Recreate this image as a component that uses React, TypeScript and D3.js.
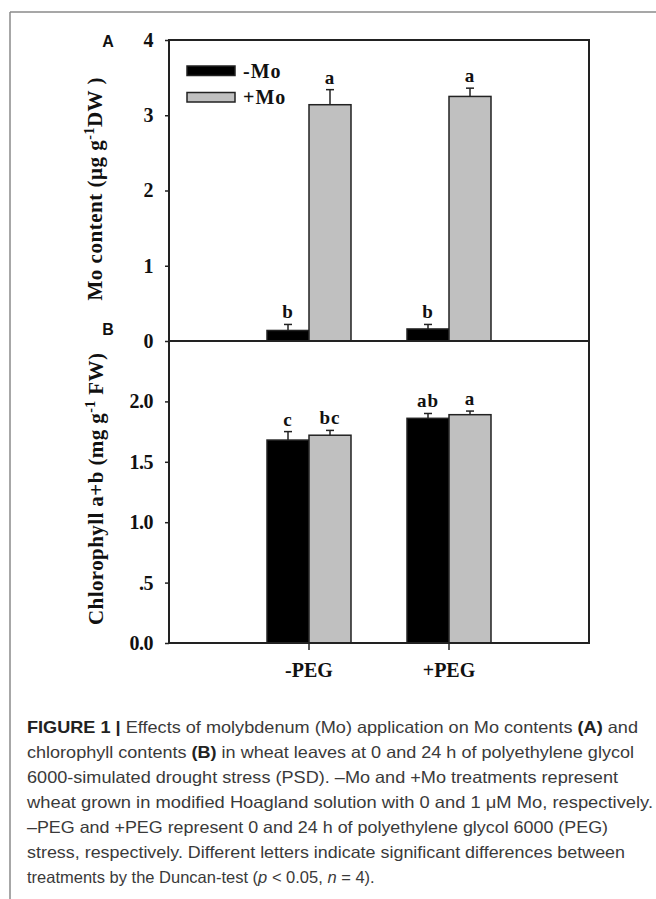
import { useRef, useEffect } from "react";
import * as d3 from "d3";

// groups on the x axis and the two Mo treatments
const groups = ["-PEG", "+PEG"];
const treatments = ["-Mo", "+Mo"];

// panel A: Mo content (µg g-1 DW)
const moMinusMo = [0.14, 0.16];
const moMinusMoErr = [0.08, 0.06];
const moPlusMo = [3.14, 3.25];
const moPlusMoErr = [0.2, 0.11];
const moLettersMinus = ["b", "b"];
const moLettersPlus = ["a", "a"];
const moTicks = [0, 1, 2, 3, 4];

// panel B: chlorophyll a+b (mg g-1 FW)
const chlMinusMo = [1.68, 1.86];
const chlMinusMoErr = [0.07, 0.04];
const chlPlusMo = [1.72, 1.89];
const chlPlusMoErr = [0.04, 0.03];
const chlLettersMinus = ["c", "ab"];
const chlLettersPlus = ["bc", "a"];
const chlTicks = [0, 0.5, 1, 1.5, 2];

const SERIF = "'Liberation Serif', 'Times New Roman', serif";
const SANS = "'Liberation Sans', Arial, Helvetica, sans-serif";
const FILLS = ["#000000", "#c0c0c0"];

export default function App() {
  const gRef = useRef<SVGGElement>(null);

  useEffect(() => {
    if (!gRef.current) return;
    const root = d3.select(gRef.current);
    root.selectAll("*").remove();

    const left = 169;
    const right = 589;

    const x = d3.scalePoint<string>().domain(groups).range([left, right]).padding(1);
    const sub = d3.scaleBand<string>().domain(treatments).range([-42, 42]);

    const drawPanel = (
      top: number,
      bottom: number,
      yMax: number,
      ticks: number[],
      fmt: (d: number) => string,
      values: number[][],
      errs: number[][],
      letters: string[][],
      showX: boolean
    ) => {
      const y = d3.scaleLinear().domain([0, yMax]).range([bottom, top]);
      const g = root.append("g");

      // bars with upper error bars and letters
      treatments.forEach((t, ti) => {
        groups.forEach((grp, gi) => {
          const v = values[ti][gi];
          const e = errs[ti][gi];
          const bx = (x(grp) || 0) + (sub(t) || 0);
          const cx = bx + sub.bandwidth() / 2;
          g.append("rect")
            .attr("x", bx)
            .attr("y", y(v))
            .attr("width", sub.bandwidth())
            .attr("height", bottom - y(v))
            .attr("fill", FILLS[ti])
            .attr("stroke", "#222")
            .attr("stroke-width", 1.5);
          g.append("line")
            .attr("x1", cx)
            .attr("x2", cx)
            .attr("y1", y(v))
            .attr("y2", y(v + e))
            .attr("stroke", "#222")
            .attr("stroke-width", 1.5);
          g.append("line")
            .attr("x1", cx - 4)
            .attr("x2", cx + 4)
            .attr("y1", y(v + e))
            .attr("y2", y(v + e))
            .attr("stroke", "#222")
            .attr("stroke-width", 1.5);
          g.append("text")
            .attr("x", cx)
            .attr("y", y(v + e) - 6)
            .attr("text-anchor", "middle")
            .attr("font-family", SERIF)
            .attr("font-weight", "bold")
            .attr("font-size", 19)
            .attr("letter-spacing", 1)
            .attr("fill", "#111")
            .text(letters[ti][gi]);
        });
      });

      // frame
      g.append("rect")
        .attr("x", left)
        .attr("y", top)
        .attr("width", right - left)
        .attr("height", bottom - top)
        .attr("fill", "none")
        .attr("stroke", "#222")
        .attr("stroke-width", 2);

      // y axis
      const ax = g
        .append("g")
        .attr("transform", `translate(${left},0)`)
        .call(
          d3
            .axisLeft(y)
            .tickValues(ticks)
            .tickSize(4)
            .tickPadding(12)
            .tickFormat((d) => fmt(d as number))
        );
      ax.select(".domain").remove();
      ax.selectAll("line").attr("stroke", "#222").attr("stroke-width", 1.5);
      ax.selectAll("text")
        .attr("font-family", SERIF)
        .attr("font-weight", "bold")
        .attr("font-size", 20)
        .attr("letter-spacing", -0.5)
        .attr("fill", "#111");

      if (showX) {
        groups.forEach((grp) => {
          g.append("line")
            .attr("x1", x(grp) || 0)
            .attr("x2", x(grp) || 0)
            .attr("y1", bottom)
            .attr("y2", bottom + 7)
            .attr("stroke", "#222")
            .attr("stroke-width", 1.5);
          g.append("text")
            .attr("x", x(grp) || 0)
            .attr("y", bottom + 34)
            .attr("text-anchor", "middle")
            .attr("font-family", SERIF)
            .attr("font-weight", "bold")
            .attr("font-size", 20)
            .attr("fill", "#111")
            .text(grp);
        });
      }
    };

    drawPanel(
      40,
      341,
      4,
      moTicks,
      (d) => d3.format("d")(d),
      [moMinusMo, moPlusMo],
      [moMinusMoErr, moPlusMoErr],
      [moLettersMinus, moLettersPlus],
      false
    );
    drawPanel(
      341,
      643,
      2.5,
      chlTicks,
      (d) => (d === 0.5 ? ".5" : d3.format(".1f")(d)),
      [chlMinusMo, chlPlusMo],
      [chlMinusMoErr, chlPlusMoErr],
      [chlLettersMinus, chlLettersPlus],
      true
    );

    // legend in panel A
    treatments.forEach((t, i) => {
      root
        .append("rect")
        .attr("x", 187)
        .attr("y", 66 + i * 26.5)
        .attr("width", 48)
        .attr("height", 9.5)
        .attr("fill", FILLS[i])
        .attr("stroke", "#222")
        .attr("stroke-width", 1.5);
      root
        .append("text")
        .attr("x", 243)
        .attr("y", 78 + i * 26)
        .attr("font-family", SERIF)
        .attr("font-weight", "bold")
        .attr("font-size", 20)
        .attr("letter-spacing", 1)
        .attr("fill", "#111")
        .text(t);
    });
  }, []);

  const labelStyle = {
    fontFamily: SERIF,
    fontWeight: "bold" as const,
    fontSize: 21,
    fill: "#111",
  };

  return (
    <svg
      width={656}
      height={899}
      style={{ position: "absolute", left: 0, top: 0, background: "#fff" }}
    >
      {/* page frame */}
      <line x1={10} x2={656} y1={12} y2={12} stroke="#8a8a8a" strokeWidth={1.5} />
      <line x1={10} x2={10} y1={12} y2={899} stroke="#8a8a8a" strokeWidth={1.5} />

      <text x={108} y={47} textAnchor="middle" fontFamily={SANS} fontWeight="bold" fontSize={16} fill="#111">
        A
      </text>
      <text x={108} y={335} textAnchor="middle" fontFamily={SANS} fontWeight="bold" fontSize={16} fill="#111">
        B
      </text>

      <text
        transform="translate(102,189) rotate(-90)"
        textAnchor="middle"
        textLength={223}
        lengthAdjust="spacing"
        {...labelStyle}
      >
        Mo content (μg g
        <tspan fontSize={14} dy={-8}>-1</tspan>
        <tspan dy={8}>DW )</tspan>
      </text>
      <text
        transform="translate(103,489) rotate(-90)"
        textAnchor="middle"
        textLength={272}
        lengthAdjust="spacing"
        {...labelStyle}
      >
        Chlorophyll a+b (mg g
        <tspan fontSize={14} dy={-8}>-1</tspan>
        <tspan dy={8}> FW)</tspan>
      </text>

      <g ref={gRef} />

      {/* caption */}
      <g fontFamily={SANS} fontSize={16.5} fill="#3a3a3a">
        <text x={27} y={733} textLength={611} lengthAdjust="spacingAndGlyphs">
          <tspan fontWeight="bold" fill="#222">FIGURE 1 |</tspan> Effects of molybdenum (Mo) application on Mo contents{" "}
          <tspan fontWeight="bold" fill="#222">(A)</tspan> and
        </text>
        <text x={27} y={758} textLength={607} lengthAdjust="spacingAndGlyphs">
          chlorophyll contents <tspan fontWeight="bold" fill="#222">(B)</tspan> in wheat leaves at 0 and 24 h of
          polyethylene glycol
        </text>
        <text x={27} y={783} textLength={591} lengthAdjust="spacingAndGlyphs">
          6000-simulated drought stress (PSD). –Mo and +Mo treatments represent
        </text>
        <text x={27} y={808} textLength={626} lengthAdjust="spacingAndGlyphs">
          wheat grown in modified Hoagland solution with 0 and 1 μM Mo, respectively.
        </text>
        <text x={27} y={833} textLength={581} lengthAdjust="spacingAndGlyphs">
          –PEG and +PEG represent 0 and 24 h of polyethylene glycol 6000 (PEG)
        </text>
        <text x={27} y={858} textLength={598} lengthAdjust="spacingAndGlyphs">
          stress, respectively. Different letters indicate significant differences between
        </text>
        <text x={27} y={883}>
          treatments by the Duncan-test (<tspan fontStyle="italic">p</tspan> &lt; 0.05,{" "}
          <tspan fontStyle="italic">n</tspan> = 4).
        </text>
      </g>
    </svg>
  );
}
